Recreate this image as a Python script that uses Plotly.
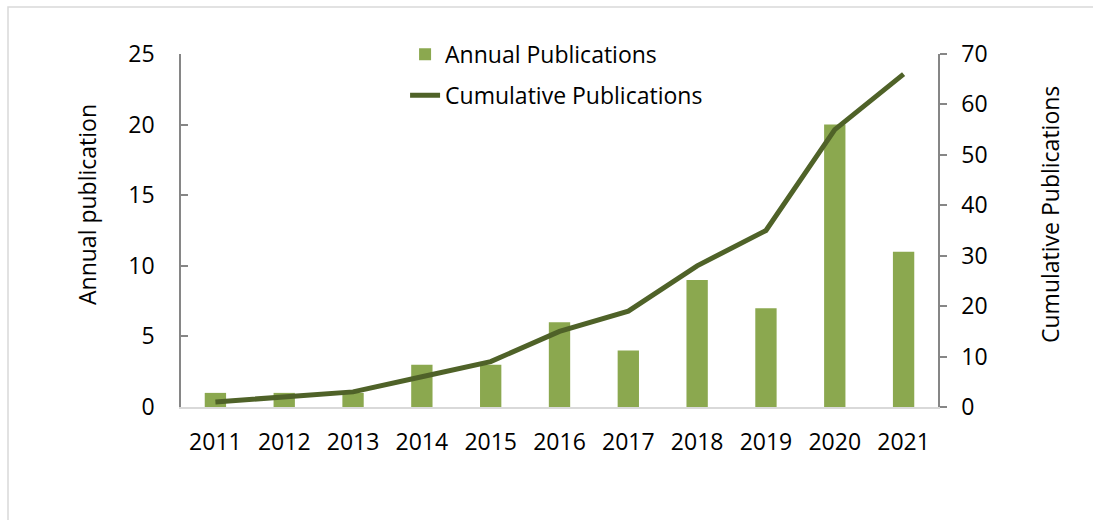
import plotly.graph_objects as go

years = ["2011", "2012", "2013", "2014", "2015", "2016", "2017", "2018", "2019", "2020", "2021"]
annual = [1, 1, 1, 3, 3, 6, 4, 9, 7, 20, 11]
cumulative = [1, 2, 3, 6, 9, 15, 19, 28, 35, 55, 66]
left_ticks = [0, 5, 10, 15, 20, 25]
right_ticks = [0, 10, 20, 30, 40, 50, 60, 70]

FONT = "Open Sans"
FS = 23

fig = go.Figure()
fig.add_trace(go.Bar(x=years, y=annual, name="Annual Publications",
                     marker=dict(color="#8BA84F", line=dict(width=0)),
                     legendgroup="a", yaxis="y"))
fig.add_trace(go.Scatter(x=years, y=cumulative, name="Cumulative Publications",
                         mode="lines", line=dict(color="#4F6228", width=5),
                         legendgroup="b", yaxis="y2"))

fig.update_layout(
    width=1093, height=520,
    margin=dict(l=181, r=155, t=54, b=113, autoexpand=False),
    paper_bgcolor="white", plot_bgcolor="white",
    font=dict(family=FONT, size=FS, color="black"),
    bargap=0.69,
    showlegend=True,
    legend=dict(x=0.296, y=1.06, xanchor="left", yanchor="top",
                bgcolor="rgba(0,0,0,0)", tracegroupgap=8,
                font=dict(family=FONT, size=FS, color="black")),
    xaxis=dict(type="category", showline=True, linecolor="#D9D9D9", linewidth=1.5,
               ticks="", showgrid=False, zeroline=False,
               ticklabelstandoff=14),
    yaxis=dict(range=[0, 25], tickvals=left_ticks, showline=True, linecolor="#868686",
               linewidth=1.5, ticks="inside", ticklen=7, tickcolor="#868686", tickwidth=1.5,
               showgrid=False, zeroline=False, ticklabelstandoff=20),
    yaxis2=dict(range=[0, 70], tickvals=right_ticks, overlaying="y", side="right",
                showline=True, linecolor="#868686", linewidth=1.5,
                ticks="outside", ticklen=7, tickcolor="#868686", tickwidth=1.5,
                showgrid=False, zeroline=False, ticklabelstandoff=10,
                tickprefix="\u2002"),
    annotations=[
        dict(text="Annual publication", xref="paper", yref="paper",
             x=(87 - 181) / 757, y=(407 - 205) / 353, textangle=-90,
             showarrow=False, xanchor="center", yanchor="middle",
             font=dict(family=FONT, size=FS, color="black")),
        dict(text="Cumulative Publications", xref="paper", yref="paper",
             x=(1050 - 181) / 757, y=(407 - 215) / 353, textangle=-90,
             showarrow=False, xanchor="center", yanchor="middle",
             font=dict(family=FONT, size=FS, color="black")),
    ],
    shapes=[dict(type="rect", xref="paper", yref="paper",
                 x0=(8 - 181) / 757, x1=(1110 - 181) / 757,
                 y0=(407 - 540) / 353, y1=(407 - 7) / 353,
                 line=dict(color="#D9D9D9", width=1.5), fillcolor="rgba(0,0,0,0)",
                 layer="below")],
)

fig.write_html("out.html")
